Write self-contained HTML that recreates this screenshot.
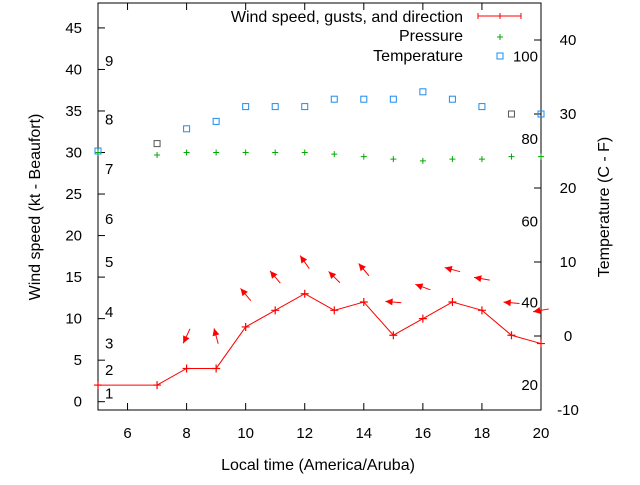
<!DOCTYPE html>
<html><head><meta charset="utf-8"><style>
body{margin:0;background:#fff;width:640px;height:480px;overflow:hidden}
svg text{font-family:"Liberation Sans",sans-serif;font-size:15px;fill:#000}
svg text.big{font-size:16px}
</style></head><body>
<svg id="chart" width="640" height="480" viewBox="0 0 640 480" xmlns="http://www.w3.org/2000/svg"></svg>
<script>
const hours=[5,7,8,9,10,11,12,13,14,15,16,17,18,19,20];
const windSpeed=[2,2,4,4,9,11,13,11,12,8,10,12,11,8,7];
const gustHours=[8,9,10,11,12,13,14,15,16,17,18,19,20];
const gustSpeed=[7.9,7.9,12.9,15,16.8,15,15.9,12,13.8,15.9,14.8,11.9,11];
const windDir=[245,105,130,130,125,135,130,175,160,165,170,175,190];
const pressure=[30,29.7,30,30,30,30,30,29.8,29.5,29.2,29,29.2,29.2,29.5,29.5];
const temperature=[25,26,28,29,31,31,31,32,32,32,33,32,31,30,30];
const tempGray=[false,true,false,false,false,false,false,false,false,false,false,false,false,true,false];
const leftTicks=[0,5,10,15,20,25,30,35,40,45];
const rightTicks=[-10,0,10,20,30,40];
const xTicks=[6,8,10,12,14,16,18,20];
const beaufortLabels=["1","2","3","4","5","6","7","8","9"];
const beaufortY=[1,3.8,7,10.8,16.8,22,28,34,41];
const pressLabels=["100","80","60","40","20"];
const pressLabelY=[37.8,26.6,15.5,4.5,-6.6];

const L=98,R=541,T=3,B=410;
const X=v=>L+(v-5)/(20-5)*(R-L);
const Y=v=>B-(v+1)/(48+1)*(B-T);
const Y2=v=>B-(v+10)/(45+10)*(B-T);
const svg=document.getElementById('chart');
const NS='http://www.w3.org/2000/svg';
function el(tag,attrs,parent){const e=document.createElementNS(NS,tag);for(const k in attrs)e.setAttribute(k,attrs[k]);(parent||svg).appendChild(e);return e;}
function txt(s,x,y,anchor,parent,cls){const t=el('text',{x:x,y:y,'text-anchor':anchor||'start'},parent);if(cls)t.setAttribute('class',cls);t.textContent=s;return t;}

const frame=el('rect',{x:L,y:T,width:R-L,height:B-T,fill:'none',stroke:'#000','stroke-width':1});



leftTicks.forEach(v=>{
  const l=el('line',{x1:L,x2:L+7,y1:Y(v),y2:Y(v),stroke:'#000'});
  
  
  const t=txt(String(v),82,Y(v)+5,'end');
  
  
});
rightTicks.forEach(v=>{
  const l=el('line',{x1:R-7,x2:R,y1:Y2(v),y2:Y2(v),stroke:'#000'});
  
  
  const t=txt(String(v),568,Y2(v)+5,'middle');
  
  
});
xTicks.forEach(v=>{
  const a=el('line',{x1:X(v),x2:X(v),y1:B,y2:B-7,stroke:'#000'});
  
  
  const b=el('line',{x1:X(v),x2:X(v),y1:T,y2:T+7,stroke:'#000'});
  
  
  const t=txt(String(v),X(v),438,'middle');
  
  
});
beaufortLabels.forEach((s,i)=>{
  const t=txt(s,105,Y(beaufortY[i])+5,'start');
  
  
});
pressLabels.forEach((s,i)=>{
  const t=txt(s,538,Y2(pressLabelY[i])+5,'end');
  
  
});

const wl=el('polyline',{points:hours.map((h,i)=>X(h)+','+Y(windSpeed[i])).join(' '),fill:'none',stroke:'#f00','stroke-width':1});


hours.forEach((h,i)=>{
  const x=X(h),y=Y(windSpeed[i]);
  const p=el('path',{d:`M${x-4},${y}H${x+4}M${x},${y-4}V${y+4}`,stroke:'#f00','stroke-width':1.2});
  
  
});
gustHours.forEach((h,i)=>{
  const cx=X(h),cy=Y(gustSpeed[i]),a=windDir[i]*Math.PI/180,len=8;
  const dx=Math.cos(a)*len,dy=-Math.sin(a)*len;
  const hx=cx+dx,hy=cy+dy,tx=cx-dx,ty=cy-dy;
  const ua=Math.atan2(dy,dx);
  const p1=[hx-8*Math.cos(ua-0.45),hy-8*Math.sin(ua-0.45)],p2=[hx-8*Math.cos(ua+0.45),hy-8*Math.sin(ua+0.45)];
  const g=el('g',{});
  
  
  el('line',{x1:tx,y1:ty,x2:hx,y2:hy,stroke:'#f00','stroke-width':1},g);
  el('polygon',{points:`${hx},${hy} ${p1[0]},${p1[1]} ${p2[0]},${p2[1]}`,fill:'#f00'},g);
});
hours.forEach((h,i)=>{
  const x=X(h),y=Y(pressure[i]);
  const p=el('path',{d:`M${x-3},${y}H${x+3}M${x},${y-3}V${y+3}`,stroke:'#0a0','stroke-width':1});
  
  
});
hours.forEach((h,i)=>{
  const x=X(h),y=Y2(temperature[i]);
  const r=el('rect',{x:x-3,y:y-3,width:6,height:6,fill:'none',stroke:tempGray[i]?'#555':'#1e8cf0','stroke-width':1});
  
  
});

const lg=el('g',{});


const l1=txt('Wind speed, gusts, and direction',463,22,'end',lg,'big');


el('path',{d:'M478,16H521M478,13V19M500,13V19M521,13V19',stroke:'#f00',fill:'none'},lg);
const l2=txt('Pressure',463,41,'end',lg,'big');


el('path',{d:'M497,37H503M500,34V40',stroke:'#0a0'},lg);
const l3=txt('Temperature',463,61,'end',lg,'big');


el('rect',{x:497,y:53,width:6,height:6,fill:'none',stroke:'#1e8cf0'},lg);

const xt=txt('Local time (America/Aruba)',318,470,'middle',null,'big');


const yt=txt('Wind speed (kt - Beaufort)',0,0,'middle',null,'big');
yt.setAttribute('transform','translate(40,207) rotate(-90)');


const y2t=txt('Temperature (C - F)',0,0,'middle',null,'big');
y2t.setAttribute('transform','translate(609,207) rotate(-90)');


</script>
</body></html>
